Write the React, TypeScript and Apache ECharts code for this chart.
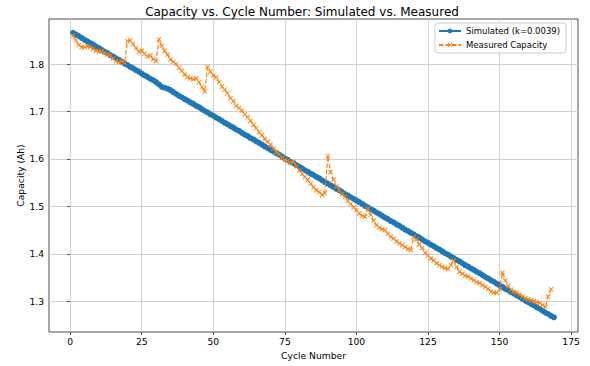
import React, { useEffect, useRef } from "react";
import * as echarts from "echarts";

const simulatedCapacity: number[] = [
  1.866, 1.862, 1.859, 1.855, 1.851, 1.848, 1.844, 1.841, 1.837, 1.834,
  1.830, 1.826, 1.823, 1.819, 1.816, 1.812, 1.809, 1.805, 1.801, 1.798,
  1.794, 1.791, 1.787, 1.784, 1.780, 1.776, 1.773, 1.769, 1.766, 1.762,
  1.757, 1.752, 1.750, 1.748, 1.745, 1.741, 1.737, 1.733, 1.730, 1.726,
  1.723, 1.719, 1.716, 1.712, 1.709, 1.705, 1.701, 1.698, 1.694, 1.691,
  1.687, 1.684, 1.680, 1.676, 1.673, 1.669, 1.666, 1.662, 1.659, 1.655,
  1.651, 1.648, 1.644, 1.641, 1.637, 1.634, 1.630, 1.626, 1.623, 1.619,
  1.616, 1.612, 1.609, 1.605, 1.601, 1.598, 1.594, 1.591, 1.587, 1.584,
  1.580, 1.576, 1.573, 1.569, 1.566, 1.562, 1.559, 1.555, 1.551, 1.548,
  1.544, 1.541, 1.537, 1.534, 1.530, 1.526, 1.523, 1.519, 1.516, 1.512,
  1.509, 1.505, 1.501, 1.498, 1.494, 1.491, 1.487, 1.484, 1.480, 1.476,
  1.473, 1.469, 1.466, 1.462, 1.459, 1.455, 1.451, 1.448, 1.444, 1.441,
  1.437, 1.434, 1.430, 1.426, 1.423, 1.419, 1.416, 1.412, 1.409, 1.405,
  1.401, 1.398, 1.394, 1.391, 1.387, 1.384, 1.380, 1.376, 1.373, 1.369,
  1.366, 1.362, 1.359, 1.355, 1.351, 1.348, 1.344, 1.341, 1.337, 1.334,
  1.330, 1.326, 1.323, 1.319, 1.316, 1.312, 1.309, 1.305, 1.301, 1.298,
  1.294, 1.291, 1.287, 1.284, 1.280, 1.276, 1.273, 1.269, 1.266,
];

const measuredCapacity: number[] = [
  1.860, 1.850, 1.840, 1.836, 1.835, 1.838, 1.836, 1.832, 1.828, 1.826,
  1.827, 1.824, 1.820, 1.818, 1.812, 1.806, 1.804, 1.806, 1.803, 1.848,
  1.850, 1.842, 1.834, 1.826, 1.828, 1.822, 1.816, 1.818, 1.810, 1.806,
  1.852, 1.838, 1.828, 1.820, 1.810, 1.805, 1.800, 1.792, 1.786, 1.778,
  1.772, 1.770, 1.768, 1.770, 1.762, 1.752, 1.742, 1.794, 1.784, 1.776,
  1.772, 1.762, 1.752, 1.746, 1.738, 1.728, 1.722, 1.712, 1.707, 1.702,
  1.694, 1.688, 1.680, 1.672, 1.665, 1.656, 1.650, 1.642, 1.636, 1.630,
  1.622, 1.614, 1.610, 1.602, 1.598, 1.596, 1.592, 1.594, 1.584, 1.576,
  1.568, 1.562, 1.556, 1.548, 1.540, 1.534, 1.530, 1.524, 1.528, 1.606,
  1.572, 1.556, 1.542, 1.534, 1.526, 1.520, 1.512, 1.505, 1.498, 1.492,
  1.485, 1.480, 1.478, 1.495, 1.482, 1.470, 1.460, 1.455, 1.452, 1.450,
  1.442, 1.436, 1.432, 1.426, 1.422, 1.418, 1.414, 1.410, 1.408, 1.435,
  1.430, 1.420, 1.412, 1.402, 1.396, 1.390, 1.386, 1.380, 1.376, 1.372,
  1.370, 1.368, 1.376, 1.386, 1.372, 1.362, 1.358, 1.354, 1.352, 1.348,
  1.344, 1.340, 1.338, 1.334, 1.330, 1.326, 1.320, 1.318, 1.318, 1.325,
  1.360, 1.344, 1.332, 1.324, 1.320, 1.318, 1.314, 1.310, 1.306, 1.304,
  1.302, 1.300, 1.298, 1.296, 1.292, 1.288, 1.310, 1.325,
];

const xTicks: number[] = [0, 25, 50, 75, 100, 125, 150, 175];
const yTicks: number[] = [1.3, 1.4, 1.5, 1.6, 1.7, 1.8];

const FONT = "DejaVu Sans";
const BLUE = "#1f77b4";
const ORANGE = "#ff7f0e";
const X_SYMBOL =
  "path://M0,1.3L1.3,0L5,3.7L8.7,0L10,1.3L6.3,5L10,8.7L8.7,10L5,6.3L1.3,10L0,8.7L3.7,5Z";

export default function App() {
  const ref = useRef<HTMLDivElement>(null);

  useEffect(() => {
    if (!ref.current) return;
    const chart = echarts.init(ref.current, undefined, { renderer: "svg" });
    const simData = simulatedCapacity.map((v, i) => [i + 1, v]);
    const measData = measuredCapacity.map((v, i) => [i + 1, v]);

    chart.setOption({
      animation: false,
      backgroundColor: "#ffffff",
      textStyle: { fontFamily: FONT },
      title: {
        text: "Capacity vs. Cycle Number: Simulated vs. Measured",
        left: 297,
        top: 1,
        textAlign: "center",
        textStyle: { fontFamily: FONT, fontSize: 12, fontWeight: "normal", color: "#000" },
      },
      legend: {
        orient: "vertical",
        left: 435,
        top: 23,
        padding: [3, 6, 3, 3],
        itemGap: 4,
        itemWidth: 22,
        itemHeight: 6,
        backgroundColor: "rgba(255,255,255,0.8)",
        borderColor: "#cccccc",
        borderWidth: 1,
        borderRadius: 3,
        textStyle: { fontFamily: FONT, fontSize: 8.5, color: "#000", lineHeight: 10 },
        data: ["Simulated (k=0.0039)", "Measured Capacity"],
      },
      grid: {
        left: 49,
        right: 12,
        top: 19,
        bottom: 34,
        show: true,
        borderColor: "#222",
        borderWidth: 0.8,
        backgroundColor: "transparent",
        containLabel: false,
        outerBoundsMode: "none",
      },
      xAxis: {
        type: "value",
        min: -7.4,
        max: 177.4,
        name: "Cycle Number",
        nameLocation: "middle",
        nameGap: 18,
        nameTextStyle: { fontFamily: FONT, fontSize: 9.2, color: "#000" },
        axisLine: { show: false },
        axisTick: {
          show: true,
          customValues: xTicks,
          length: 3,
          lineStyle: { color: "#222", width: 0.8 },
        },
        axisLabel: {
          customValues: xTicks,
          margin: 5,
          fontFamily: FONT,
          fontSize: 9.2,
          color: "#000",
        },
        splitLine: { show: true, lineStyle: { color: "#cccccc", width: 0.9 } },
      },
      yAxis: {
        type: "value",
        min: 1.235,
        max: 1.895,
        name: "Capacity (Ah)",
        nameLocation: "middle",
        nameRotate: 90,
        nameGap: 24,
        nameMoveOverlap: false,
        nameTextStyle: { fontFamily: FONT, fontSize: 9.2, color: "#000" },
        axisLine: { show: false },
        axisTick: {
          show: true,
          customValues: yTicks,
          length: 3,
          lineStyle: { color: "#222", width: 0.8 },
        },
        axisLabel: {
          customValues: yTicks,
          margin: 5,
          fontFamily: FONT,
          fontSize: 9.2,
          color: "#000",
          formatter: (v: number) => v.toFixed(1),
        },
        splitLine: { show: true, lineStyle: { color: "#cccccc", width: 0.9 } },
      },
      series: [
        {
          name: "Simulated (k=0.0039)",
          type: "line",
          data: simData,
          symbol: "circle",
          symbolSize: 6,
          showSymbol: true,
          itemStyle: { color: BLUE },
          lineStyle: { color: BLUE, width: 1.2 },
          z: 2,
        },
        {
          name: "Measured Capacity",
          type: "line",
          data: measData,
          symbol: X_SYMBOL,
          symbolSize: 5,
          showSymbol: true,
          itemStyle: { color: ORANGE },
          lineStyle: { color: ORANGE, width: 1.2, type: [4.5, 2] },
          z: 3,
        },
      ],
    });

    return () => chart.dispose();
  }, []);

  return (
    <div
      ref={ref}
      style={{ position: "absolute", left: 0, top: 0, width: 590, height: 366 }}
    />
  );
}
